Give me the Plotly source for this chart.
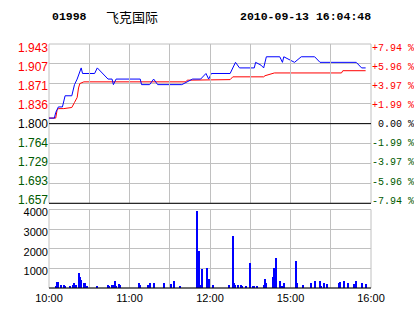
import plotly.graph_objects as go

# ---------------- data ----------------
stock_code = "01998"
stock_name = "飞克国际"
time_stamp = "2010-09-13 16:04:48"
prev_close = 1.80

# percent levels of the price grid and their labels
pct_levels = [7.94, 5.96, 3.97, 1.99, 0.00, -1.99, -3.97, -5.96, -7.94]
price_labels = ["1.943", "1.907", "1.871", "1.836", "1.800", "1.764", "1.729", "1.693", "1.657"]
pct_labels = ["+7.94 %", "+5.96 %", "+3.97 %", "+1.99 %", "\u00a00.00 %", "-1.99 %", "-3.97 %", "-5.96 %", "-7.94 %"]

# time axis: trading minutes after 10:00 (lunch break removed)
grid_minutes = [0, 30, 60, 90, 120, 150, 180, 210, 240]
time_labels = ["10:00", "", "11:00", "", "12:00", "", "15:00", "", "16:00"]

# last price (blue)
price_min = [0, 4, 5, 7, 10, 12, 17, 18, 19, 21, 24, 25, 34, 36, 44, 47, 48, 50, 68, 69,
             75, 78, 81, 99, 103, 107, 113, 117, 119, 121, 135, 139, 142, 153, 154, 158, 160,
             162, 172, 174, 175, 183, 188, 198, 202, 229, 233, 236]
price_val = [1.81, 1.81, 1.82, 1.83, 1.83, 1.85, 1.85, 1.86, 1.87, 1.88, 1.90, 1.89, 1.89, 1.90,
             1.88, 1.88, 1.87, 1.88, 1.88, 1.87, 1.87, 1.88, 1.87, 1.87, 1.875, 1.88, 1.88, 1.89,
             1.88, 1.89, 1.89, 1.91, 1.90, 1.90, 1.91, 1.905, 1.90, 1.92, 1.92, 1.91, 1.92, 1.91,
             1.92, 1.92, 1.91, 1.91, 1.90, 1.90]

# average price (red)
avg_min = [0, 5, 6, 7, 11, 17, 19, 21, 22, 23, 26, 102, 103, 135, 137, 160, 161, 168, 218, 219, 236]
avg_val = [1.81, 1.81, 1.824, 1.827, 1.827, 1.829, 1.838, 1.847, 1.864, 1.872, 1.875, 1.875, 1.878,
           1.879, 1.884, 1.884, 1.886, 1.891, 1.891, 1.895, 1.895]

# volume bars
vol_min = [5, 6, 7, 9, 11, 12, 16, 18, 19, 20, 22, 23, 24, 26, 27, 28, 36, 44, 45, 47, 48, 49, 50,
           52, 53, 67, 68, 74, 75, 78, 86, 91, 93, 98, 110, 112, 113, 114, 118, 119, 122, 134, 137,
           138, 139, 141, 143, 144, 147, 150, 152, 153, 155, 160, 161, 162, 167, 168, 169, 172, 174,
           175, 184, 185, 189, 195, 198, 202, 203, 205, 207, 216, 217, 220, 223, 227, 228, 229, 233, 236]
vol_val = [120, 320, 320, 170, 170, 120, 120, 170, 260, 170, 780, 580, 430, 270, 270, 120, 120, 170,
           120, 170, 170, 370, 120, 220, 170, 270, 170, 170, 270, 270, 270, 220, 370, 120, 3950, 1900,
           170, 990, 1040, 480, 170, 170, 2670, 270, 170, 170, 170, 120, 120, 1290, 120, 120, 120, 170,
           480, 270, 580, 1040, 1550, 370, 120, 270, 1390, 270, 170, 270, 370, 370, 120, 270, 220, 270,
           320, 370, 270, 220, 170, 370, 270, 220]
vol_ticks = [1000, 2000, 3000, 4000]

# ---------------- derived ----------------
price_levels = [prev_close * (1 + p / 100) for p in pct_levels]
lo, hi = min(price_levels), max(price_levels)

RED, GREEN, BLACK, BLUE, GRID = "#ff0000", "#005a00", "#000000", "#0000ff", "#c0c0c0"


def col(p):
    return RED if p > 0 else (BLACK if p == 0 else GREEN)


left_text = [f"<span style='color:{col(p)}'>{t}</span>" for p, t in zip(pct_levels, price_labels)]
right_text = [f"<span style='color:{col(p)}'>{t}</span>" for p, t in zip(pct_levels, pct_labels)]

fig = go.Figure()
# empty traces that carry the price / percent label axes
fig.add_trace(go.Scatter(x=[], y=[], mode="lines", xaxis="x", yaxis="y4", hoverinfo="skip"))
fig.add_trace(go.Scatter(x=[], y=[], mode="lines", xaxis="x", yaxis="y5", hoverinfo="skip"))
fig.add_trace(go.Scatter(x=avg_min, y=avg_val, mode="lines", line=dict(color=RED, width=1),
                         xaxis="x", yaxis="y", hoverinfo="skip"))
fig.add_trace(go.Scatter(x=price_min, y=price_val, mode="lines", line=dict(color=BLUE, width=1),
                         xaxis="x", yaxis="y", hoverinfo="skip"))
fig.add_trace(go.Bar(x=vol_min, y=vol_val, width=0.75, marker=dict(color=BLUE, line=dict(width=0)),
                     xaxis="x2", yaxis="y3", hoverinfo="skip"))

sans = "Liberation Sans, Arial, sans-serif"
mono = "Liberation Mono, Courier New, monospace"

# pixel geometry of the plotting area (for domains)
H = 244.0
price_dom = [(288 - 203.3) / H, 1.0]
label_dom = [(288 - 200.0) / H, (288 - 47.7) / H]   # tick labels sit slightly inside the grid
vol_dom = [0.0, (288 - 209.5) / H]

common = dict(zeroline=False, showline=False, ticks="", fixedrange=True, automargin=False)

fig.update_layout(
    width=414, height=314,
    margin=dict(l=49, r=43, t=44, b=26, pad=0),
    paper_bgcolor="white", plot_bgcolor="rgba(0,0,0,0)",
    showlegend=False,
    xaxis=dict(domain=[0, 1], anchor="y", range=[0, 240], tickvals=grid_minutes,
               showticklabels=False, showgrid=True, gridcolor=GRID, gridwidth=1, **common),
    yaxis=dict(domain=price_dom, anchor="x", range=[lo, hi], tickvals=price_levels,
               showticklabels=False, showgrid=True, gridcolor=GRID, gridwidth=1, **common),
    yaxis4=dict(domain=label_dom, anchor="x", side="left", range=[lo, hi], tickvals=price_levels,
                ticktext=left_text, tickfont=dict(family=sans, size=12, color=BLACK),
                showgrid=False, **common),
    yaxis5=dict(overlaying="y4", side="right", anchor="x", range=[lo, hi], tickvals=price_levels,
                ticktext=right_text, tickfont=dict(family=mono, size=10, color=BLACK),
                showgrid=False, **common),
    xaxis2=dict(domain=[0, 1], anchor="y3", range=[0, 240], tickvals=grid_minutes,
                ticktext=time_labels, tickfont=dict(family=sans, size=11, color=BLACK),
                showgrid=True, gridcolor=GRID, gridwidth=1, tickangle=0, ticklabelstandoff=2,
                **common),
    yaxis3=dict(domain=vol_dom, anchor="x2", range=[0, 4000], tickvals=vol_ticks,
                tickfont=dict(family=sans, size=11, color=BLACK), showgrid=True, gridcolor=GRID,
                gridwidth=1, ticklabelshift=3, **common),
    bargap=0,
)

shapes = [
    dict(type="rect", xref="x domain", yref="y domain", x0=0, x1=1, y0=0, y1=1,
         line=dict(color=GRID, width=1), layer="below"),
    dict(type="line", xref="x domain", yref="y", x0=0, x1=1, y0=prev_close, y1=prev_close,
         line=dict(color=BLACK, width=1)),
    dict(type="line", xref="x domain", yref="y domain", x0=0, x1=1, y0=0, y1=0,
         line=dict(color=BLACK, width=1)),
    dict(type="rect", xref="x2 domain", yref="y3 domain", x0=0, x1=1, y0=0, y1=1,
         line=dict(color=GRID, width=1), layer="below"),
    dict(type="line", xref="x2 domain", yref="y3 domain", x0=0, x1=1, y0=0, y1=0,
         line=dict(color=BLACK, width=1)),
]
fig.update_layout(shapes=shapes)

head_font = dict(family=mono, size=11.5, color=BLACK, weight="bold")
fig.add_annotation(text=stock_code, xref="paper", yref="paper", x=(50 - 49) / 322, y=(288 - 16) / 244,
                   xanchor="left", yanchor="middle", showarrow=False, font=head_font)
fig.add_annotation(text=stock_name, xref="paper", yref="paper", x=(104 - 49) / 322, y=(288 - 16) / 244,
                   xanchor="left", yanchor="middle", showarrow=False,
                   font=dict(family="Noto Sans CJK SC", size=13, color=BLACK))
fig.add_annotation(text=time_stamp, xref="paper", yref="paper", x=(237.5 - 49) / 322, y=(288 - 16) / 244,
                   xanchor="left", yanchor="middle", showarrow=False, font=head_font)

fig.write_html("out.html")
